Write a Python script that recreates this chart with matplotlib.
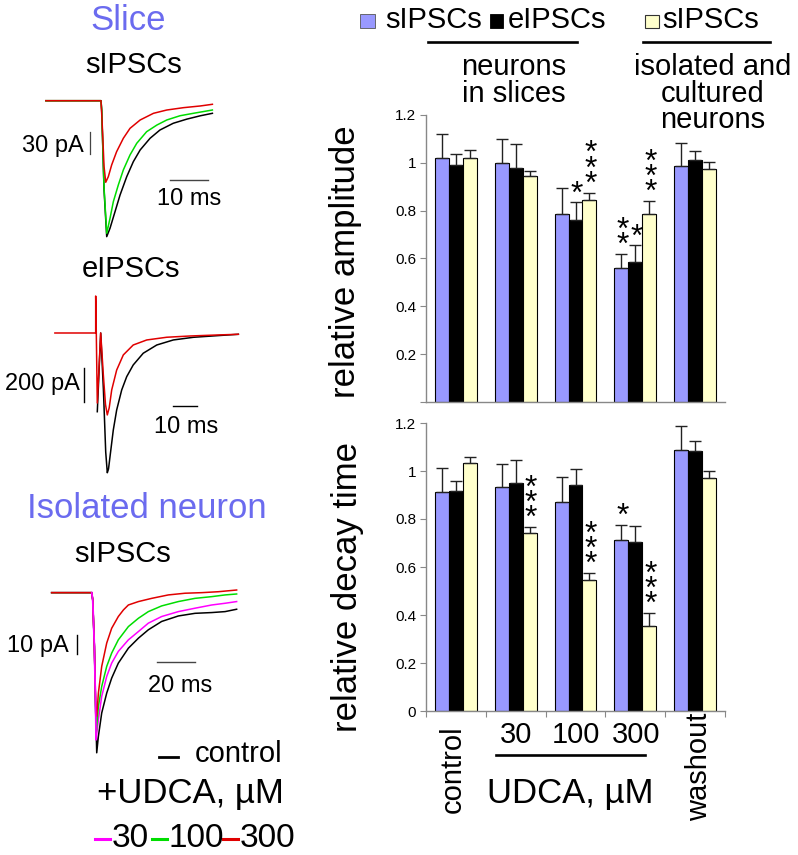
import numpy as np
import matplotlib
matplotlib.use('Agg')
import matplotlib.pyplot as plt
from matplotlib.lines import Line2D
from matplotlib.patches import Rectangle
import matplotlib.transforms as mtransforms

plt.rcParams['font.family'] = ['Liberation Sans', 'DejaVu Sans']

W, H = 798, 855

# ---------------- bar chart data ----------------
conditions = ['control', '30', '100', '300', 'washout']
legend_labels = ['sIPSCs', 'eIPSCs', 'sIPSCs']
amp_s = [1.02, 1.00, 0.785, 0.56, 0.985]
amp_s_err = [0.10, 0.10, 0.11, 0.06, 0.10]
amp_e = [0.99, 0.98, 0.76, 0.585, 1.01]
amp_e_err = [0.045, 0.10, 0.075, 0.07, 0.04]
amp_i = [1.02, 0.945, 0.845, 0.785, 0.975]
amp_i_err = [0.035, 0.02, 0.03, 0.055, 0.028]
amp_sig = [[0, 0, 0], [0, 0, 0], [0, 1, 3], [2, 1, 3], [0, 0, 0]]

dec_s = [0.912, 0.933, 0.87, 0.712, 1.088]
dec_s_err = [0.10, 0.095, 0.105, 0.063, 0.10]
dec_e = [0.918, 0.95, 0.94, 0.703, 1.085]
dec_e_err = [0.042, 0.095, 0.068, 0.068, 0.042]
dec_i = [1.035, 0.74, 0.547, 0.354, 0.97]
dec_i_err = [0.025, 0.027, 0.028, 0.054, 0.028]
dec_sig = [[0, 0, 0], [0, 0, 3], [0, 0, 3], [1, 0, 3], [0, 0, 0]]

yticks = [0, 0.2, 0.4, 0.6, 0.8, 1.0, 1.2]

# ---------------- trace data (ms, pA) ----------------
# Slice sIPSCs
sl_black_t = [-14.5, 0, 0.18, 0.79, 1.5, 2.37, 3.68, 5.0, 6.76, 8.5, 10.3, 12.9, 15.5, 19.0, 22.6, 26.1, 29.3]
sl_black_i = [0, 0, -12.7, -121, -185.5, -174, -151.5, -128.8, -103.7, -83.2, -67.2, -51.3, -40, -30.8, -25.1, -20.6, -17.2]
sl_green_t = [-14.5, 0, 0.18, 0.79, 1.5, 2.37, 3.24, 4.55, 5.87, 7.63, 9.4, 12.0, 14.7, 17.3, 20.8, 24.3, 29.3]
sl_green_i = [0, 0, -12.7, -118, -180.9, -160.4, -137.8, -115, -94.5, -74, -58.1, -42.3, -33.2, -26.3, -20.5, -17.2, -12.7]
sl_red_t = [-14.5, 0, 0.3, 0.8, 1.24, 1.92, 2.8, 4.1, 5.87, 7.63, 10.3, 13.8, 17.3, 21.7, 26.1, 29.3]
sl_red_i = [0, 0, -30, -90, -111.3, -103.7, -87.7, -69.6, -51.3, -37.7, -26.3, -17.2, -12.7, -9.5, -7.2, -4.9]

# Slice eIPSCs
ev_red_t = [-17.5, 0, 0, 0.26, 0.69, 2.15, 3.3, 4.2, 4.98, 5.8, 6.87, 9.0, 11.85, 16.1, 21.9, 30.5, 40.5, 51.9, 61.2]
ev_red_i = [0, 0, 217.6, 0, -411.8, 0, -250, -420, -482, -440, -335, -218, -129, -70.6, -41, -25, -17.6, -11.8, -7.6]
ev_black_t = [0.69, 2.15, 3.3, 4.3, 4.98, 5.5, 6.14, 7.55, 9.0, 11.16, 13.3, 16.1, 20.4, 26.2, 33.3, 41.9, 51.9, 61.2]
ev_black_i = [-463, 0, -330, -700, -822, -800, -728, -571, -453, -335, -257, -188, -119, -70.6, -41, -25.3, -15.9, -7.6]

# Isolated neuron sIPSCs
iso_t_decay = [3.51, 5.26, 7.89, 10.5, 14.0, 19.3, 24.6, 29.8, 36.8, 45.6, 54.4, 63.2, 70.2, 76.3]
iso_black_t = [-21.1, 0, 0.53, 1.4, 2.1, 2.63] + iso_t_decay
iso_black_i = [0, 0, -3.8, -28.4, -63.5, -84.5, -75.8, -63.5, -53, -45.1, -37.2, -29.3, -24, -19.6, -15.2, -12.3, -10.9, -10.5, -10, -8.75]
iso_mag_t = [-21.1, 0, 0.53, 1.4, 2.1, 2.28] + iso_t_decay
iso_mag_i = [0, 0, -3.8, -28.4, -63.5, -77.5, -67, -54.7, -44.2, -37.2, -31, -24.9, -20.5, -16.1, -12.6, -10, -8.2, -6.5, -5.6, -4.7]
iso_green_t = [-21.1, 0, 0.53, 1.4, 2.1, 2.35] + iso_t_decay
iso_green_i = [0, 0, -3.8, -28.4, -63.5, -74, -60, -49.5, -38.9, -31.9, -24.9, -17.9, -13.5, -10, -7, -4.7, -3, -2.1, -1.2, -0.7]
iso_red_t = [-21.1, 0, 0.53, 1.4, 2.1, 2.63, 3.51, 5.26, 7.89, 10.5, 14.0, 16.7, 19.3, 24.6, 31.6, 40.3, 49.1, 57.9, 66.7, 76.3]
iso_red_i = [0, 0, -3.8, -28.4, -60, -65.2, -53, -38.9, -26.6, -18.8, -12.6, -9.1, -6.5, -4.7, -3, -1.2, -0.3, 0, 0.5, 1.4]

# ---------------- style ----------------
BLUE = '#9999ff'
YELLOW = '#ffffcc'
TITLE = '#6b6bef'
SPINE = '#888888'
C_RED = '#e00000'
C_GREEN = '#00dd00'
C_MAG = '#ff00ff'

fig = plt.figure(figsize=(W / 100, H / 100), dpi=100)


def fx(X):
    return X / W


def fy(Y):
    return 1 - Y / H


def ftext(X, Y, s, **kw):
    kw.setdefault('va', 'baseline')
    kw.setdefault('ha', 'center')
    fig.text(fx(X), fy(Y), s, **kw)


def fline(X0, Y0, X1, Y1, color='black', lw=1.8):
    fig.add_artist(Line2D([fx(X0), fx(X1)], [fy(Y0), fy(Y1)], color=color, lw=lw,
                          transform=fig.transFigure))


def px_axes(X0, Y0, X1, Y1):
    return fig.add_axes([fx(X0), fy(Y1), (X1 - X0) / W, (Y1 - Y0) / H])


# ---------------- bar charts ----------------
def bar_panel(ax, vals, errs, sig, show_zero):
    x = np.arange(len(conditions))
    w = 0.7 / 3
    colors = [BLUE, 'black', YELLOW]
    for j in range(3):
        xs = x + (j - 1) * w
        ax.bar(xs, vals[j], width=w, color=colors[j], edgecolor='black', linewidth=0.8, zorder=2)
        ax.errorbar(xs, vals[j], yerr=[np.zeros(len(x)), errs[j]], fmt='none', ecolor='#222222',
                    elinewidth=1.0, capsize=4, capthick=1.0, zorder=3)
    fs = 23
    star_tr = mtransforms.offset_copy(ax.transData, fig=fig, y=-0.6 * fs, units='points')
    for i in range(len(conditions)):
        for j in range(3):
            n = sig[i][j]
            if n == 0:
                continue
            base = vals[j][i] + errs[j][i] + 0.05
            ax.text(x[i] + (j - 1) * w + 0.02, base, '\n'.join(['*'] * n), fontsize=fs,
                    ha='center', va='bottom', linespacing=0.36, transform=star_tr, zorder=4)
    ax.set_xlim(-0.5, len(conditions) - 0.5)
    ax.set_ylim(0, 1.2)
    ax.set_yticks(yticks)
    labels = ['0' if show_zero else '', '0.2', '0.4', '0.6', '0.8', '1', '1.2']
    ax.set_yticklabels(labels, fontsize=11)
    for s in ['top', 'right']:
        ax.spines[s].set_visible(False)
    for s in ['left', 'bottom']:
        ax.spines[s].set_color(SPINE)
        ax.spines[s].set_linewidth(1.0)
    ax.tick_params(axis='y', direction='out', length=4, color=SPINE, pad=3)


ax1 = px_axes(426, 115, 725, 402)
bar_panel(ax1, [amp_s, amp_e, amp_i], [amp_s_err, amp_e_err, amp_i_err], amp_sig, False)
ax1.set_xticks([])

ax2 = px_axes(426, 423, 725, 711)
bar_panel(ax2, [dec_s, dec_e, dec_i], [dec_s_err, dec_e_err, dec_i_err], dec_sig, True)
ax2.set_xticks(np.arange(len(conditions) + 1) - 0.5)
ax2.set_xticklabels([])
ax2.tick_params(axis='x', direction='out', length=4, color=SPINE)

# y labels
ftext(345, 262, 'relative amplitude', fontsize=25, rotation=90, va='center')
ftext(347, 587, 'relative decay time', fontsize=25, rotation=90, va='center')

# legend
fig.add_artist(Rectangle((fx(360), fy(28.3)), 15 / W, 14.3 / H, facecolor=BLUE, edgecolor='#555555',
                         lw=0.6, transform=fig.transFigure))
fig.add_artist(Rectangle((fx(490), fy(28.3)), 13.5 / W, 14.3 / H, facecolor='black', edgecolor='black',
                         lw=0.6, transform=fig.transFigure))
fig.add_artist(Rectangle((fx(645), fy(28.3)), 14 / W, 13.3 / H, facecolor=YELLOW, edgecolor='#333333',
                         lw=0.8, transform=fig.transFigure))
ftext(385, 28.3, legend_labels[0], fontsize=21, ha='left')
ftext(507.5, 28.3, legend_labels[1], fontsize=21, ha='left')
ftext(662, 28.3, legend_labels[2], fontsize=21, ha='left')
fline(428, 42, 577, 42, lw=1.9)
fline(643, 42, 770, 42, lw=1.9)
ftext(514, 75, 'neurons', fontsize=21)
ftext(514, 101.7, 'in slices', fontsize=21)
ftext(713, 75, 'isolated and', fontsize=21)
ftext(713, 101.7, 'cultured', fontsize=21)
ftext(713, 128.3, 'neurons', fontsize=21)

# x category labels
ftext(453, 725, conditions[0], fontsize=21, rotation=90, va='top')
ftext(699, 713, conditions[4], fontsize=21, rotation=90, va='top')
for i in (1, 2, 3):
    ftext(426 + 60 * i + 30, 743.3, conditions[i], fontsize=21)
fline(496, 755, 645, 755, lw=1.9)
ftext(570, 803.3, 'UDCA, µM', fontsize=25)

# ---------------- traces ----------------
def trace_axes(X0, Y0, X1, Y1, xlim, ylim):
    ax = px_axes(X0, Y0, X1, Y1)
    ax.set_xlim(*xlim)
    ax.set_ylim(*ylim)
    ax.set_axis_off()
    return ax


# Slice sIPSCs
ftext(128, 30, 'Slice', fontsize=25, color=TITLE)
ftext(134, 73.3, 'sIPSCs', fontsize=21)
axa = trace_axes(40, 95, 220, 245, (-16.05, 31.3), (-196.9, 7.78))
axa.plot(sl_black_t, sl_black_i, color='black', lw=1.1)
axa.plot(sl_green_t, sl_green_i, color=C_GREEN, lw=1.1)
axa.plot(sl_red_t, sl_red_i, color=C_RED, lw=1.1)
axa.plot([-2.9, -2.9], [-42.7, -72.7], color='#444444', lw=0.9)
axa.plot([18.2, 28.2], [-108.2, -108.2], color='#444444', lw=1.0)
ftext(84, 151.7, '30 pA', fontsize=17, ha='right')
ftext(189, 205, '10 ms', fontsize=17)

# Slice eIPSCs
ftext(131, 276.7, 'eIPSCs', fontsize=21)
axb = trace_axes(50, 290, 250, 480, (-19.6, 66.2), (-864.7, 252.9))
axb.plot(ev_black_t, ev_black_i, color='black', lw=1.1)
axb.plot(ev_red_t, ev_red_i, color=C_RED, lw=1.1)
axb.plot([-4.9, -4.9], [-205.9, -405.9], color='black', lw=1.0)
axb.plot([33.3, 43.3], [-427.6, -427.6], color='black', lw=1.0)
ftext(80, 390, '200 pA', fontsize=17, ha='right')
ftext(186, 433.3, '10 ms', fontsize=17)

# Isolated neuron
ftext(146.7, 518.3, 'Isolated neuron', fontsize=25, color=TITLE)
ftext(122.5, 561.7, 'sIPSCs', fontsize=21)
axc = trace_axes(45, 580, 245, 760, (-24.6, 80.7), (-88.3, 6.68))
axc.plot(iso_black_t, iso_black_i, color='black', lw=1.1)
axc.plot(iso_mag_t, iso_mag_i, color=C_MAG, lw=1.1)
axc.plot(iso_green_t, iso_green_i, color=C_GREEN, lw=1.1)
axc.plot(iso_red_t, iso_red_i, color=C_RED, lw=1.1)
axc.plot(iso_mag_t[1:6], iso_mag_i[1:6], color=C_MAG, lw=1.3)
axc.plot([-7.6, -7.6], [-22.3, -32.3], color='black', lw=1.0)
axc.plot([34.5, 54.5], [-36.5, -36.5], color='#444444', lw=1.0)
ftext(68.3, 651.7, '10 pA', fontsize=17, ha='right')
ftext(180, 691.7, '20 ms', fontsize=17)

# trace legend
fline(159, 756.7, 178, 756.7, color='black', lw=2.0)
ftext(195, 761.7, 'control', fontsize=21, ha='left')
ftext(96.7, 803.3, '+UDCA, µM', fontsize=25, ha='left')
fline(95, 839, 110, 839, color=C_MAG, lw=2.2)
ftext(111.7, 846.7, '30', fontsize=24, ha='left')
fline(151.7, 839, 166.7, 839, color=C_GREEN, lw=2.2)
ftext(168.3, 846.7, '100', fontsize=24, ha='left')
fline(223.3, 839, 238.3, 839, color=C_RED, lw=2.2)
ftext(240, 846.7, '300', fontsize=24, ha='left')

fig.savefig('out.png', dpi=100)
